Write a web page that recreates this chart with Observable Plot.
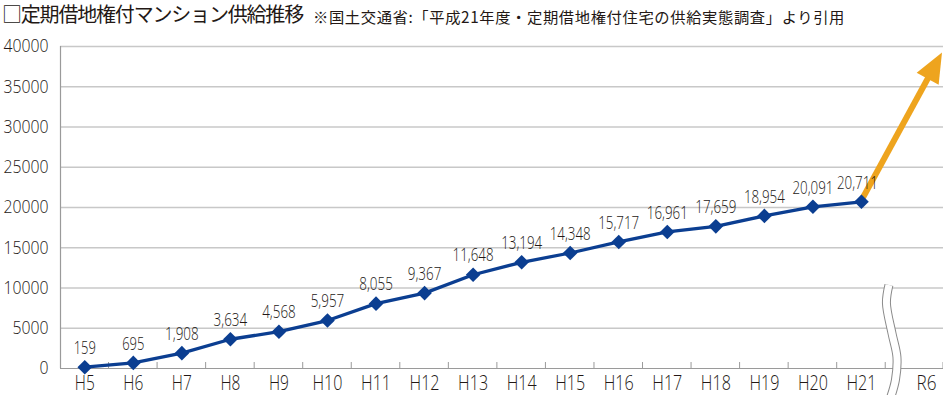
<!DOCTYPE html>
<html>
<head>
<meta charset="utf-8">
<script src="https://cdn.jsdelivr.net/npm/d3@7"></script>
<script src="https://cdn.jsdelivr.net/npm/@observablehq/plot@0.6"></script>
<style>
  html, body { margin: 0; padding: 0; background: #fff; }
  #wrap { width: 943px; height: 395px; position: relative; overflow: hidden; }
  #title { height: 30px; position: relative; font-family: "Noto Sans CJK JP", sans-serif; color: #231815; white-space: nowrap; }
  #title .main { position: absolute; left: 2px; top: 3px; font-size: 20px; line-height: 21px; }
  #title .sub { position: absolute; left: 313px; top: 8px; font-size: 15.3px; line-height: 16px; }
  svg { display: block; }
</style>
</head>
<body>
<div id="wrap">
  <div id="title"><span class="main" id="mainTitle">□定期借地権付マンション供給推移</span><span class="sub" id="subTitle">※国土交通省:「平成21年度・定期借地権付住宅の供給実態調査」より引用</span></div>
  <div id="chart"></div>
</div>
<script>
// ---- data ----
const categories = ["H5","H6","H7","H8","H9","H10","H11","H12","H13","H14","H15","H16","H17","H18","H19","H20","H21"];
const supply = [159, 695, 1908, 3634, 4568, 5957, 8055, 9367, 11648, 13194, 14348, 15717, 16961, 17659, 18954, 20091, 20711];
const futureCategory = "R6";
const forecastValue = 39200;
const yTicks = [0, 5000, 10000, 15000, 20000, 25000, 30000, 35000, 40000];

// ---- layout ----
const lineColor = "#0b3e91";
const arrowColor = "#eea41e";
const gridColor = "#c8c8c8";
const axisColor = "#9a9a9a";
const futurePos = categories.length + 0.34;   // position of R6 after the break
const xMin = -0.5, xMax = categories.length + 0.69;
const fontFamily = "'Open Sans','DejaVu Sans Condensed',sans-serif";

const points = categories.map((c, i) => ({i, c, v: supply[i], label: supply[i].toLocaleString("en-US")}));
const lastIndex = categories.length - 1;
const boundaries = categories.map((c, i) => i + 0.5).concat([xMax]);
const xTickPos = categories.map((c, i) => i).concat([futurePos]);
const xTickText = categories.concat([futureCategory]);

// tick marks (inward) along bottom axis
function innerTicks(index, scales) {
  const g = d3.create("svg:g").attr("stroke", axisColor).attr("stroke-width", 1);
  const y0 = scales.y(0);
  for (const b of boundaries) {
    const x = scales.x(b);
    g.append("line").attr("x1", x).attr("x2", x).attr("y1", y0 - 6).attr("y2", y0);
  }
  return g.node();
}

// axis break (double wavy line)
function breakMark(index, scales) {
  const xb = scales.x(categories.length - 0.5);
  const y0 = scales.y(0);
  const off = [[3.7,-83],[1.2,-65],[6.7,-35],[11.7,-11],[10.2,12],[5.2,30]];
  const pts = off.map(([dx, dy]) => [xb + dx, y0 + dy]);
  const line = d3.line().curve(d3.curveCatmullRom);
  const g = d3.create("svg:g").attr("fill", "none");
  g.append("path").attr("d", line(pts)).attr("stroke", "#8a8a8a").attr("stroke-width", 9);
  g.append("path").attr("d", line(pts)).attr("stroke", "#fff").attr("stroke-width", 7);
  return g.node();
}

// forecast arrow
function forecastArrow(index, scales) {
  const x1 = scales.x(lastIndex), y1 = scales.y(supply[lastIndex]);
  const x2 = scales.x(xMax) - 1, y2 = scales.y(forecastValue);
  const dx = x2 - x1, dy = y2 - y1, len = Math.hypot(dx, dy);
  const ux = dx / len, uy = dy / len, nx = -uy, ny = ux;
  const headLen = 30, hw = 12.5;
  const bx = x2 - ux * headLen, by = y2 - uy * headLen;
  const g = d3.create("svg:g");
  g.append("line").attr("x1", x1).attr("y1", y1).attr("x2", bx + ux * 2).attr("y2", by + uy * 2)
    .attr("stroke", arrowColor).attr("stroke-width", 6);
  g.append("path")
    .attr("d", `M${x2},${y2}L${bx + nx * hw},${by + ny * hw}L${bx - nx * hw},${by - ny * hw}Z`)
    .attr("fill", arrowColor);
  return g.node();
}

const chart = Plot.plot({
  width: 943,
  height: 365,
  marginTop: 16,
  marginBottom: 27,
  marginLeft: 60,
  marginRight: 0,
  style: {fontFamily, fontWeight: 300, color: "#231815", background: "#fff", overflow: "visible"},
  x: {type: "linear", domain: [xMin, xMax]},
  y: {domain: [0, 40000]},
  marks: [
    Plot.ruleY(yTicks.filter(d => d > 0), {stroke: gridColor, strokeWidth: 1.3}),
    Plot.ruleY([0], {stroke: axisColor, strokeWidth: 1.2}),
    Plot.ruleX([xMin], {y1: 0, y2: 40000, stroke: axisColor, strokeWidth: 1.2}),
    innerTicks,
    breakMark,
    Plot.axisY({ticks: yTicks, tickSize: 0, tickPadding: 12, fontSize: 18, label: null, tickFormat: d3.format("d")}),
    Plot.axisX({ticks: xTickPos, tickSize: 0, tickPadding: 7, fontSize: 20, label: null,
      tickFormat: (d) => xTickText[xTickPos.indexOf(d)]}),
    forecastArrow,
    Plot.line(points, {x: "i", y: "v", stroke: lineColor, strokeWidth: 3.3}),
    Plot.dot(points, {x: "i", y: "v", symbol: "diamond2", r: 6.6, fill: lineColor, stroke: "none"}),
    Plot.text(points.filter(d => d.i !== lastIndex), {x: "i", y: "v", text: "label", dy: -19, fontSize: 18, fill: "#231815"}),
    Plot.text(points.filter(d => d.i === lastIndex), {x: "i", y: "v", text: "label", dx: -4, dy: -19, fontSize: 18, fill: "#231815"})
  ]
});
document.getElementById("chart").appendChild(chart);

// condense glyphs to the original's narrow typeface: fit each text to a width per character
function squeeze(selector, perChar, commaWidth) {
  chart.querySelectorAll(selector).forEach((t) => {
    const s = t.textContent;
    const commas = (s.match(/,/g) || []).length;
    const target = (s.length - commas) * perChar + commas * commaWidth;
    if (target > 0) {
      t.setAttribute("textLength", target.toFixed(2));
      t.setAttribute("lengthAdjust", "spacingAndGlyphs");
    }
  });
}
squeeze('g[aria-label="y-axis tick label"] text', 9, 0);
squeeze('g[aria-label="x-axis tick label"] text', 10, 0);
squeeze('g[aria-label="text"] text', 7.4, 4);

// fit title lines to the original's widths
function fitWidth(id, target) {
  const el = document.getElementById(id);
  const n = [...el.textContent].length;
  const w = el.getBoundingClientRect().width;
  el.style.letterSpacing = ((target - w) / n).toFixed(3) + "px";
}
fitWidth("mainTitle", 301);
fitWidth("subTitle", 532);
</script>
</body>
</html>
